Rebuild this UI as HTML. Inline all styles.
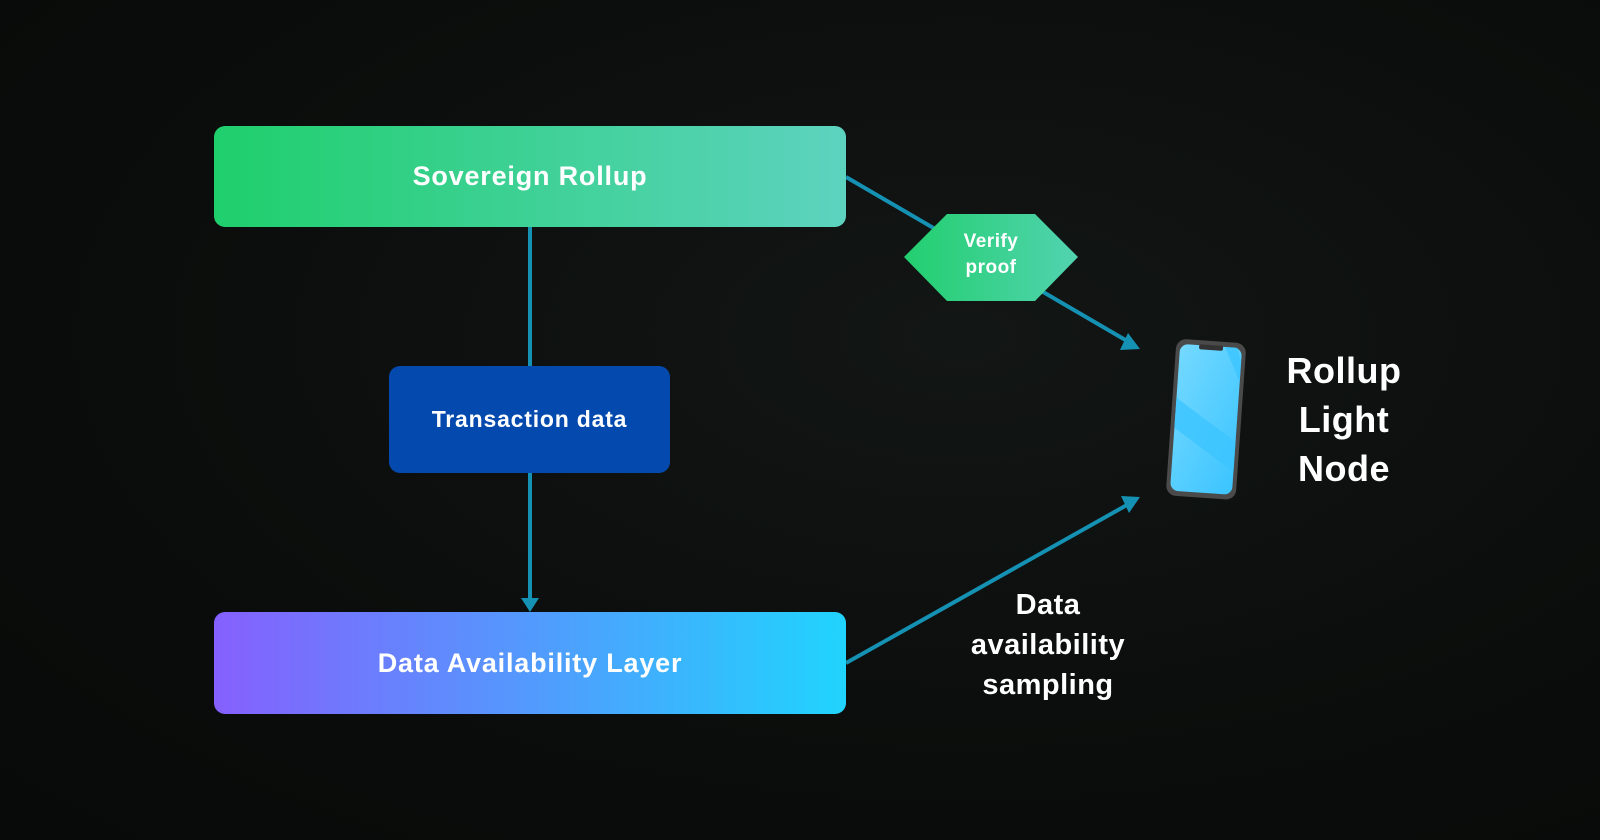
<!DOCTYPE html>
<html><head><meta charset="utf-8"><style>
html,body{margin:0;padding:0}
body{width:1600px;height:840px;overflow:hidden;background:radial-gradient(ellipse at 60% 40%,#121614 0%,#0b0d0c 60%,#080a09 100%);font-family:"Liberation Sans",sans-serif;position:relative}
.box{position:absolute;border-radius:11px;color:#fff;font-weight:bold;display:flex;align-items:center;justify-content:center;letter-spacing:0.8px}
.t{position:absolute;color:#fff;font-weight:bold;text-align:center;letter-spacing:0.5px}
</style></head><body>
<svg width="1600" height="840" style="position:absolute;left:0;top:0">
<defs>
<linearGradient id="hg" x1="0" x2="1"><stop offset="0" stop-color="#22cf6e"/><stop offset="1" stop-color="#52d3b0"/></linearGradient>
<linearGradient id="sc" x1="0" y1="0" x2="1" y2="1"><stop offset="0" stop-color="#74d9ff"/><stop offset="1" stop-color="#3cc4ff"/></linearGradient>
</defs>
<g stroke="#1591b3" stroke-width="4" fill="none">
<line x1="530" y1="227" x2="530" y2="366"/>
<line x1="530" y1="473" x2="530" y2="604"/>
<line x1="846" y1="177" x2="1134" y2="345"/>
<line x1="846" y1="663" x2="1134" y2="501"/>
</g>
<g fill="#1591b3">
<polygon points="521,598 539,598 530,612"/>
<polygon points="1140,349 1120,350 1128,333"/>
<polygon points="1140,497 1129,513 1121,496"/>
</g>
<polygon points="904,257 947,214 1035,214 1078,257 1035,301 947,301" fill="url(#hg)"/>
<g transform="rotate(4 1208 420)">
<rect x="1171" y="341" width="70" height="157" rx="10" fill="#4a4a4a"/>
<rect x="1175" y="346" width="62" height="147" rx="8" fill="url(#sc)"/>
<polygon points="1175,400 1175,430 1237,470 1237,440" fill="#3cc4ff" opacity="0.8"/>
<polygon points="1220,346 1232,346 1237,360 1237,380" fill="#3cc4ff" opacity="0.8"/>
<rect x="1194" y="345" width="24" height="5" rx="2" fill="#333"/>
</g>
</svg>
<div class="box" style="left:214px;top:126px;width:632px;height:101px;background:linear-gradient(90deg,#1fcf6c,#5dd3bf);font-size:27px">Sovereign Rollup</div>
<div class="box" style="left:389px;top:366px;width:281px;height:107px;background:#0449ad;font-size:23px">Transaction data</div>
<div class="box" style="left:214px;top:612px;width:632px;height:102px;background:linear-gradient(90deg,#8560fd,#20d4fd);font-size:27px">Data Availability Layer</div>
<div class="t" style="left:931px;top:229px;width:120px;font-size:19px;line-height:26px">Verify<br>proof</div>
<div class="t" style="left:1244px;top:346px;width:200px;font-size:36px;line-height:49px">Rollup<br>Light<br>Node</div>
<div class="t" style="left:928px;top:585px;width:240px;font-size:29px;line-height:40px">Data<br>availability<br>sampling</div>
</body></html>
